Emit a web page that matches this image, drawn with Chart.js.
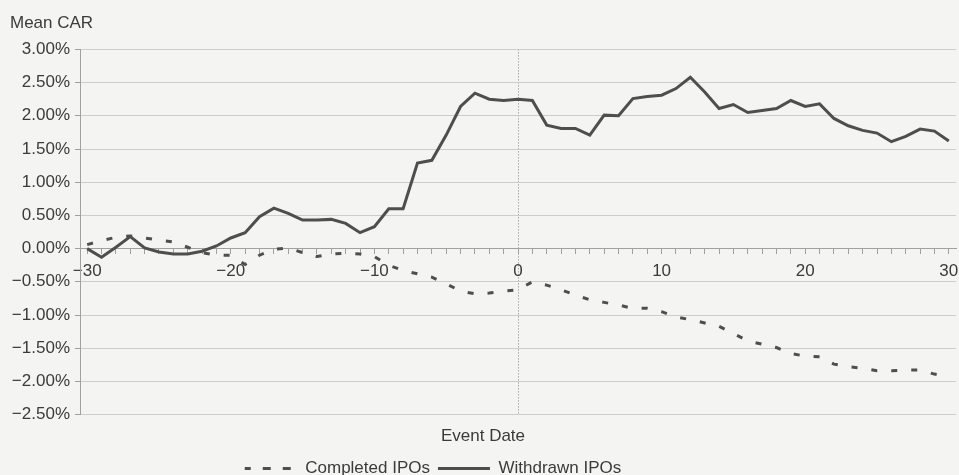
<!DOCTYPE html>
<html lang="en">
<head>
  <meta charset="UTF-8">
  <title>Mean CAR around the event date</title>
  <script src="https://cdn.jsdelivr.net/npm/chart.js"></script>
  <style>
    body { margin: 0; background: #f4f4f2; }
    #chart { display: block; }
  </style>
</head>
<body>
  <canvas id="chart" width="959" height="475"></canvas>

  <script>
    // event days, -30 .. 30
    const days = [-30, -29, -28, -27, -26, -25, -24, -23, -22, -21,
                  -20, -19, -18, -17, -16, -15, -14, -13, -12, -11,
                  -10, -9, -8, -7, -6, -5, -4, -3, -2, -1,
                  0,
                  1, 2, 3, 4, 5, 6, 7, 8, 9, 10,
                  11, 12, 13, 14, 15, 16, 17, 18, 19, 20,
                  21, 22, 23, 24, 25, 26, 27, 28, 29, 30];

    // mean CAR in percent
    const completed = [0.06, 0.12, 0.17, 0.19, 0.16, 0.13, 0.10, 0.02, -0.06, -0.10,
                       -0.10, -0.24, -0.10, -0.01, 0.01, -0.06, -0.12, -0.08, -0.07, -0.08,
                       -0.12, -0.25, -0.33, -0.38, -0.43, -0.53, -0.64, -0.68, -0.67, -0.64,
                       -0.62,
                       -0.50, -0.55, -0.62, -0.70, -0.77, -0.81, -0.85, -0.90, -0.90, -0.95,
                       -1.03, -1.07, -1.12, -1.17, -1.28, -1.39, -1.44, -1.49, -1.58, -1.62,
                       -1.63, -1.74, -1.78, -1.80, -1.84, -1.84, -1.83, -1.83, -1.89, -1.93];

    const withdrawn = [0.00, -0.13, 0.02, 0.18, 0.01, -0.05, -0.08, -0.08, -0.04, 0.04,
                       0.16, 0.24, 0.48, 0.61, 0.53, 0.43, 0.43, 0.44, 0.38, 0.24,
                       0.33, 0.60, 0.60, 1.29, 1.33, 1.71, 2.14, 2.34, 2.25, 2.23,
                       2.25,
                       2.23, 1.86, 1.81, 1.81, 1.71, 2.01, 2.00, 2.26, 2.29, 2.31,
                       2.41, 2.58, 2.36, 2.11, 2.17, 2.05, 2.08, 2.11, 2.23, 2.14,
                       2.18, 1.96, 1.85, 1.78, 1.74, 1.61, 1.69, 1.80, 1.77, 1.62];

    const labelledDays = [-30, -20, -10, 0, 10, 20, 30];
    const eventDay = 0;

    const ink = '#3b3b3b';
    const lineInk = '#4e4e4e';
    const axisGrey = '#a0a0a0';
    const minus = s => String(s).replace('-', '\u2212');

    Chart.defaults.font.family = '"Liberation Sans", Arial, sans-serif';
    Chart.defaults.font.size = 17;
    Chart.defaults.color = ink;

    // legend sits a bit left of centre in the original
    const legendNudge = {
      id: 'legendNudge',
      afterLayout(chart) {
        chart.legend.left -= 50;
        chart.legend.right -= 50;
      }
    };

    new Chart(document.getElementById('chart'), {
      type: 'line',
      data: {
        labels: days,
        datasets: [
          {
            label: 'Completed IPOs',
            data: completed,
            borderColor: lineInk,
            backgroundColor: lineInk,
            borderWidth: 3,
            borderDash: [6, 14],
            pointRadius: 0,
            tension: 0
          },
          {
            label: 'Withdrawn IPOs',
            data: withdrawn,
            borderColor: lineInk,
            backgroundColor: lineInk,
            borderWidth: 3,
            pointRadius: 0,
            tension: 0
          }
        ]
      },
      options: {
        responsive: false,
        animation: false,
        layout: { padding: { left: 10, right: 3, top: 0, bottom: -12 } },
        plugins: {
          title: {
            display: true,
            text: 'Mean CAR',
            align: 'start',
            color: ink,
            font: { size: 17, weight: 'normal' },
            padding: { top: 13, bottom: 16 }
          },
          subtitle: {
            display: true,
            text: 'Event Date',
            position: 'bottom',
            weight: 500,
            color: ink,
            font: { size: 17 },
            padding: { top: 12, bottom: 5 }
          },
          legend: {
            position: 'bottom',
            labels: { boxWidth: 52, boxHeight: 0, padding: 8, color: ink }
          },
          tooltip: { enabled: false }
        },
        scales: {
          x: {
            type: 'category',
            position: { y: 0 },
            offset: true,
            grid: {
              color: c => days[c.index] === eventDay ? '#808080' : 'rgba(0,0,0,0)',
              tickColor: axisGrey,
              tickLength: 5,
              tickBorderDash: []
            },
            border: { display: true, color: axisGrey, dash: [1, 2] },
            ticks: {
              autoSkip: false,
              maxRotation: 0,
              padding: 8,
              color: ink,
              callback: (v, i) => labelledDays.includes(days[i]) ? minus(days[i]) : ''
            },
            afterFit: s => { s.paddingLeft = 0; s.paddingRight = 0; }
          },
          y: {
            min: -2.5,
            max: 3,
            ticks: {
              stepSize: 0.5,
              padding: 5,
              color: ink,
              callback: v => minus(v.toFixed(2)) + '%'
            },
            grid: { color: '#cdcdcd', tickLength: 5, tickColor: axisGrey },
            border: { display: true, color: axisGrey },
            afterFit: s => { s.width = 70; }
          }
        }
      },
      plugins: [legendNudge]
    });
  </script>
</body>
</html>
